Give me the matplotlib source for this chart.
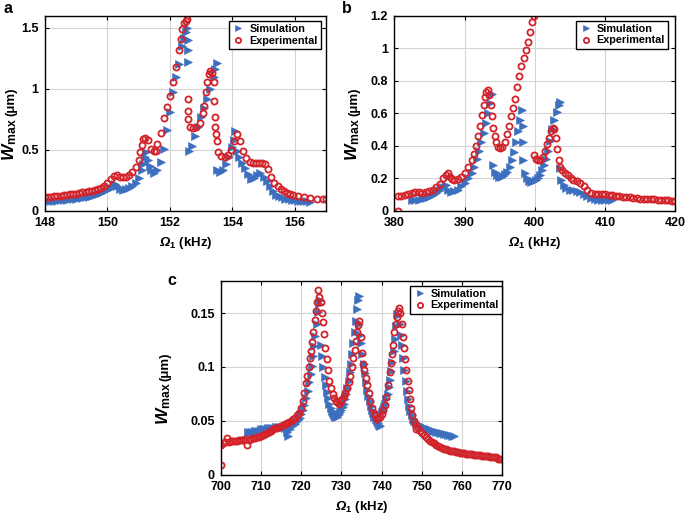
import matplotlib
matplotlib.use("Agg")
import matplotlib.pyplot as plt
from matplotlib.ticker import FuncFormatter, MultipleLocator

plt.rcParams['font.family'] = ['Liberation Sans', 'DejaVu Sans']
plt.rcParams['font.weight'] = 'bold'
plt.rcParams['mathtext.fontset'] = 'custom'
plt.rcParams['mathtext.rm'] = 'Liberation Sans:bold'
plt.rcParams['mathtext.bf'] = 'Liberation Sans:bold'
plt.rcParams['mathtext.it'] = 'Liberation Sans:italic'
plt.rcParams['mathtext.sf'] = 'Liberation Sans:italic'
plt.rcParams['mathtext.tt'] = 'Liberation Sans:bold:italic'

# ---------------- Panel a (kHz, um) ----------------
a_sim_x = [148.0, 148.1, 148.2, 148.3, 148.4, 148.5, 148.6, 148.7, 148.8, 148.9,
           149.0, 149.1, 149.2, 149.3, 149.4, 149.5, 149.6, 149.7, 149.8, 149.9,
           150.0, 150.1, 150.2, 150.25, 150.3, 150.4, 150.5, 150.6, 150.7, 150.8,
           150.9, 151.0, 151.1, 151.15, 151.2, 151.25, 151.3, 151.35, 151.4, 151.5,
           151.6, 151.7, 151.8, 151.9, 152.0, 152.1, 152.2, 152.3, 152.4, 152.45,
           152.5, 152.55, 152.58, 152.58, 152.58,
           152.6, 152.7, 152.8, 152.9, 153.0, 153.1, 153.2, 153.3, 153.4, 153.45, 153.5,
           153.5, 153.6, 153.7, 153.8, 153.9, 154.0, 154.05, 154.1, 154.15, 154.2,
           154.3, 154.4, 154.5, 154.6, 154.7, 154.8, 154.9, 155.0, 155.1, 155.2,
           155.3, 155.4, 155.5, 155.6, 155.7, 155.8, 155.9, 156.0, 156.1, 156.2,
           156.3, 156.4, 156.5]
a_sim_y = [0.075, 0.076, 0.078, 0.08, 0.082, 0.085, 0.087, 0.09, 0.093, 0.096,
           0.10, 0.103, 0.107, 0.11, 0.115, 0.12, 0.125, 0.135, 0.145, 0.158,
           0.17, 0.19, 0.21, 0.22, 0.20, 0.18, 0.17, 0.175, 0.185, 0.20,
           0.23, 0.27, 0.33, 0.38, 0.44, 0.48, 0.42, 0.37, 0.33, 0.31,
           0.33, 0.40, 0.51, 0.66, 0.81, 0.97, 1.10, 1.20, 1.35, 1.42,
           1.47, 1.50, 1.40, 1.32, 1.22,
           0.49, 0.53, 0.61, 0.69, 0.77, 0.84, 0.92, 1.00, 1.10, 1.16, 1.21,
           0.33, 0.32, 0.33, 0.38, 0.44, 0.52, 0.58, 0.65, 0.49, 0.44,
           0.39, 0.35, 0.30, 0.26, 0.27, 0.29, 0.31, 0.28, 0.24, 0.20,
           0.16, 0.13, 0.12, 0.11, 0.10, 0.095, 0.09, 0.085, 0.082, 0.08,
           0.078, 0.076, 0.075]
a_exp_x = [148.0, 148.1, 148.2, 148.3, 148.4, 148.5, 148.6, 148.7, 148.8, 148.9,
           149.0, 149.1, 149.2, 149.3, 149.4, 149.5, 149.6, 149.7, 149.8, 149.9,
           150.0, 150.1, 150.2, 150.3, 150.4, 150.5, 150.6, 150.7, 150.8, 150.9,
           151.0, 151.05, 151.1, 151.15, 151.2, 151.3, 151.4, 151.5, 151.55, 151.6,
           151.7, 151.8, 151.9, 152.0, 152.1, 152.2, 152.3, 152.35, 152.4, 152.45,
           152.5, 152.55, 152.58, 152.58, 152.58,
           152.65, 152.75, 152.85, 152.95, 153.05, 153.1, 153.15, 153.2, 153.25, 153.3,
           153.35, 153.4, 153.42, 153.44, 153.46, 153.48, 153.5, 153.55, 153.65, 153.75,
           153.85, 153.95, 154.05, 154.15, 154.25, 154.35, 154.45, 154.55, 154.65, 154.75,
           154.85, 154.95, 155.05, 155.15, 155.25, 155.35, 155.45, 155.55, 155.65, 155.75,
           155.85, 155.95, 156.1, 156.3, 156.5, 156.7, 156.9, 157.0]
a_exp_y = [0.11, 0.112, 0.115, 0.118, 0.12, 0.123, 0.126, 0.13, 0.133, 0.137,
           0.14, 0.145, 0.15, 0.155, 0.16, 0.165, 0.17, 0.178, 0.19, 0.205,
           0.23, 0.26, 0.285, 0.29, 0.28, 0.275, 0.278, 0.29, 0.32, 0.36,
           0.42, 0.48, 0.54, 0.59, 0.60, 0.58, 0.51, 0.49, 0.49, 0.55,
           0.64, 0.76, 0.85, 0.94, 1.06, 1.18, 1.32, 1.41, 1.49, 1.54,
           1.56, 1.57, 0.92, 0.82, 0.75,
           0.69, 0.68, 0.69, 0.72, 0.80, 0.86, 0.97, 1.06, 1.12, 1.15,
           1.13, 1.06, 0.90, 0.77, 0.69, 0.63, 0.57, 0.48, 0.45, 0.44,
           0.46, 0.50, 0.57, 0.63, 0.57, 0.49, 0.43, 0.40, 0.39, 0.39,
           0.39, 0.39, 0.38, 0.34, 0.28, 0.23, 0.20, 0.18, 0.16, 0.145,
           0.135, 0.125, 0.118, 0.11, 0.105, 0.10, 0.10, 0.10]

# ---------------- Panel b ----------------
b_sim_x = [382.5, 383.0, 383.5, 384.0, 384.5, 385.0, 385.5, 386.0, 386.5, 387.0,
           387.4, 387.7, 388.0, 388.5, 389.0, 389.5, 390.0, 390.5, 391.0, 391.4,
           391.8, 392.1, 392.4, 392.7, 393.0, 393.3, 393.6, 393.9,
           394.0, 394.3, 394.6, 394.9, 395.2, 395.5, 395.8, 396.1, 396.4, 396.7,
           397.0, 397.3, 397.6, 397.9, 398.2, 398.3, 398.3, 398.35,
           398.6, 398.9, 399.2, 399.5, 399.8, 400.1, 400.4, 400.7, 401.0, 401.3,
           401.6, 401.9, 402.2, 402.5, 402.8, 403.1, 403.4, 403.6,
           403.6, 403.8, 404.1, 404.5, 405.0, 405.5, 406.0, 406.5, 407.0, 407.5,
           408.0, 408.5, 409.0, 409.5, 410.0, 410.5, 411.0]
b_sim_y = [0.065, 0.066, 0.068, 0.072, 0.077, 0.085, 0.095, 0.11, 0.125, 0.145,
           0.16, 0.13, 0.115, 0.12, 0.13, 0.15, 0.17, 0.20, 0.23, 0.27,
           0.32, 0.37, 0.42, 0.48, 0.54, 0.60, 0.66, 0.72,
           0.28, 0.24, 0.22, 0.21, 0.21, 0.215, 0.225, 0.24, 0.27, 0.31,
           0.36, 0.42, 0.49, 0.56, 0.62, 0.52, 0.42, 0.31,
           0.23, 0.20, 0.18, 0.175, 0.18, 0.19, 0.20, 0.22, 0.25, 0.28,
           0.32, 0.37, 0.43, 0.50, 0.56, 0.61, 0.65, 0.67,
           0.26, 0.19, 0.16, 0.14, 0.13, 0.125, 0.12, 0.115, 0.105, 0.09,
           0.08, 0.072, 0.068, 0.066, 0.065, 0.064, 0.063]
b_exp_x = [380.5, 380.5, 381.0, 381.5, 382.0, 382.5, 383.0, 383.5, 384.0, 384.5,
           385.0, 385.5, 386.0, 386.5, 387.0, 387.3, 387.6, 387.9, 388.2, 388.5,
           389.0, 389.5, 390.0, 390.5, 391.0, 391.3, 391.6, 391.9, 392.2, 392.5,
           392.7, 392.9, 393.1, 393.3, 393.5, 393.7, 393.9, 394.1, 394.3, 394.5,
           394.8, 395.1, 395.4, 395.7, 396.0, 396.3, 396.6, 396.9, 397.2, 397.5,
           397.8, 398.1, 398.4, 398.7, 399.0, 399.3, 399.6, 399.9,
           399.9, 400.2, 400.5, 400.8, 401.1, 401.4, 401.7, 402.0, 402.3, 402.6,
           402.8, 403.0, 403.2, 403.4, 403.6, 403.9, 404.3, 404.7, 405.1, 405.5,
           406.0, 406.5, 407.0, 407.5, 408.0, 408.5, 409.0, 409.5, 410.0, 410.5,
           411.0, 411.5, 412.0, 412.5, 413.0, 413.5, 414.0, 414.5, 415.0, 415.5,
           416.0, 416.5, 417.0, 417.5, 418.0, 418.5, 419.0, 419.5, 420.0]
b_exp_y = [0.0, 0.09, 0.09, 0.095, 0.10, 0.11, 0.115, 0.115, 0.11, 0.115,
           0.12, 0.13, 0.145, 0.165, 0.20, 0.22, 0.23, 0.21, 0.195, 0.19,
           0.195, 0.21, 0.23, 0.27, 0.31, 0.35, 0.40, 0.46, 0.52, 0.59,
           0.65, 0.70, 0.73, 0.74, 0.71, 0.65, 0.58, 0.51, 0.46, 0.42,
           0.39, 0.385, 0.39, 0.42, 0.47, 0.52, 0.58, 0.63, 0.69, 0.76,
           0.83, 0.89, 0.94, 0.99, 1.04, 1.10, 1.16, 1.20,
           0.34, 0.32, 0.31, 0.31, 0.33, 0.37, 0.41, 0.45, 0.49, 0.51,
           0.50, 0.45, 0.38, 0.31, 0.27, 0.25, 0.235, 0.22, 0.20, 0.19,
           0.18, 0.17, 0.155, 0.13, 0.11, 0.105, 0.10, 0.10, 0.10, 0.097,
           0.095, 0.09, 0.088, 0.086, 0.085, 0.082, 0.08, 0.078, 0.075, 0.074,
           0.072, 0.071, 0.07, 0.068, 0.066, 0.065, 0.063, 0.062, 0.06]

# ---------------- Panel c ----------------
c_sim_x = [706.8, 707.2, 707.6, 708.0, 708.4, 708.8, 709.2, 709.6, 710.0, 710.4,
           710.8, 711.2, 711.6, 712.0, 712.4, 712.8, 713.2, 713.6, 714.0, 714.4,
           714.8, 715.2, 715.6, 716.0, 716.4, 716.8, 717.2, 717.6, 718.0, 718.4,
           718.8, 719.2, 719.6, 720.0, 720.4, 720.8, 721.2, 721.6, 722.0, 722.3,
           722.6, 722.9, 723.2, 723.5, 723.8, 724.1, 724.4, 724.6, 724.9, 725.2,
           725.5, 725.8, 726.1, 726.4, 726.7, 727.0, 727.3, 727.6, 727.9, 728.2,
           728.5, 728.8, 729.1, 729.4, 729.7, 730.0, 730.3, 730.6, 730.9, 731.2,
           731.5, 731.8, 732.1, 732.4, 732.7, 733.0, 733.3, 733.6, 733.9, 734.1,
           734.3, 734.5, 734.7, 734.9, 735.2, 735.5, 735.8, 736.1, 736.4, 736.7,
           737.0, 737.3, 737.6, 737.9, 738.2, 738.5, 738.8, 739.1, 739.4, 739.7,
           740.0, 740.3, 740.6, 740.9, 741.2, 741.5, 741.8, 742.1, 742.4, 742.7,
           743.0, 743.3, 743.6, 743.9, 744.2, 744.5, 744.8, 745.1, 745.4, 745.7,
           746.0, 746.3, 746.6, 746.9, 747.2, 747.5, 747.8, 748.1, 748.5, 749.0,
           749.5, 750.0, 750.5, 751.0, 751.5, 752.0, 752.5, 753.0, 753.5, 754.0,
           754.5, 755.0, 755.5, 756.0, 756.5, 757.0, 757.5, 758.0]
c_sim_y = [0.040, 0.040, 0.040, 0.040, 0.041, 0.041, 0.041, 0.041, 0.042, 0.042,
           0.042, 0.042, 0.043, 0.043, 0.043, 0.043, 0.043, 0.044, 0.044, 0.044,
           0.044, 0.044, 0.044, 0.043, 0.040, 0.036, 0.042, 0.045, 0.046, 0.047,
           0.049, 0.051, 0.053, 0.056, 0.060, 0.065, 0.071, 0.078, 0.086, 0.093,
           0.101, 0.110, 0.119, 0.129, 0.140, 0.151, 0.158, 0.162, 0.120, 0.110,
           0.100, 0.091, 0.083, 0.077, 0.071, 0.066, 0.062, 0.059, 0.057, 0.055,
           0.054, 0.054, 0.055, 0.056, 0.058, 0.060, 0.063, 0.066, 0.070, 0.075,
           0.080, 0.087, 0.095, 0.103, 0.112, 0.122, 0.132, 0.143, 0.154, 0.162,
           0.166, 0.140, 0.130, 0.122, 0.112, 0.103, 0.094, 0.086, 0.079, 0.073,
           0.068, 0.064, 0.060, 0.057, 0.054, 0.052, 0.050, 0.048, 0.046, 0.045,
           0.058, 0.060, 0.063, 0.066, 0.070, 0.075, 0.081, 0.088, 0.096, 0.105,
           0.115, 0.126, 0.138, 0.149, 0.148, 0.140, 0.130, 0.120, 0.108, 0.097,
           0.087, 0.078, 0.070, 0.064, 0.059, 0.055, 0.052, 0.050, 0.048, 0.047,
           0.046, 0.045, 0.044, 0.043, 0.042, 0.042, 0.041, 0.041, 0.040, 0.040,
           0.039, 0.039, 0.038, 0.038, 0.037, 0.037, 0.036, 0.036]
c_exp_x = [700.0, 700.0, 700.5, 701.0, 701.5, 702.0, 702.5, 703.0, 703.5, 704.0,
           704.5, 705.0, 705.5, 706.0, 706.5, 707.0, 707.5, 708.0, 708.5, 709.0,
           709.5, 710.0, 710.5, 711.0, 711.5, 712.0, 712.5, 713.0, 713.5, 714.0,
           714.5, 715.0, 715.5, 716.0, 716.5, 717.0, 717.5, 718.0, 718.5, 719.0,
           719.5, 720.0, 720.4, 720.8, 721.2, 721.5, 721.8, 722.1, 722.4, 722.7,
           723.0, 723.3, 723.6, 723.9, 724.2, 724.5, 724.8, 725.1, 725.4, 725.7,
           726.0, 726.3, 726.6, 727.0, 727.4, 727.8, 728.2, 728.6, 729.0, 729.4,
           729.8, 730.2, 730.6, 731.0, 731.4, 731.8, 732.2, 732.6, 733.0, 733.3,
           733.6, 733.9, 734.2, 734.5, 734.8, 735.1, 735.4, 735.7, 736.0, 736.4,
           736.8, 737.2, 737.6, 738.0, 738.4, 738.8, 739.2, 739.6, 740.0, 740.4,
           740.8, 741.2, 741.6, 742.0, 742.3, 742.6, 742.9, 743.2, 743.5, 743.8,
           744.1, 744.4, 744.7, 745.0, 745.3, 745.6, 745.9, 746.2, 746.5, 746.8,
           747.1, 747.4, 747.7, 748.0, 748.3, 748.6, 749.0, 749.5, 750.0, 750.5,
           751.0, 751.5, 752.0, 752.5, 753.0, 753.5, 754.0, 754.5, 755.0, 755.5,
           756.0, 756.5, 757.0, 757.5, 758.0, 758.5, 759.0, 759.5, 760.0, 760.5,
           761.0, 761.5, 762.0, 762.5, 763.0, 763.5, 764.0, 764.5, 765.0, 765.5,
           766.0, 766.5, 767.0, 767.5, 768.0, 768.5, 769.0, 769.5, 770.0]
c_exp_y = [0.009, 0.028, 0.029, 0.030, 0.034, 0.030, 0.031, 0.031, 0.031, 0.031,
           0.032, 0.032, 0.032, 0.033, 0.028, 0.032, 0.033, 0.034, 0.034, 0.035,
           0.035, 0.036, 0.037, 0.038, 0.039, 0.040, 0.041, 0.042, 0.043, 0.043,
           0.044, 0.045, 0.046, 0.047, 0.048, 0.049, 0.050, 0.052, 0.053, 0.055,
           0.057, 0.062, 0.068, 0.076, 0.085, 0.092, 0.100, 0.108, 0.115, 0.123,
           0.132, 0.144, 0.152, 0.160, 0.171, 0.165, 0.160, 0.150, 0.142, 0.131,
           0.118, 0.107, 0.097, 0.087, 0.080, 0.075, 0.071, 0.068, 0.067, 0.066,
           0.068, 0.070, 0.073, 0.076, 0.080, 0.086, 0.092, 0.100, 0.108, 0.116,
           0.124, 0.132, 0.139, 0.143, 0.128, 0.113, 0.103, 0.097, 0.090, 0.083,
           0.076, 0.068, 0.062, 0.057, 0.055, 0.052, 0.053, 0.054, 0.056, 0.060,
           0.065, 0.072, 0.083, 0.095, 0.104, 0.112, 0.120, 0.132, 0.140, 0.146,
           0.152, 0.155, 0.150, 0.140, 0.128, 0.118, 0.107, 0.097, 0.087, 0.079,
           0.070, 0.062, 0.055, 0.050, 0.047, 0.042, 0.043, 0.041, 0.039, 0.037,
           0.035, 0.033, 0.031, 0.030, 0.029, 0.028, 0.027, 0.026, 0.025, 0.024,
           0.024, 0.023, 0.022, 0.022, 0.022, 0.021, 0.021, 0.020, 0.020, 0.020,
           0.019, 0.019, 0.019, 0.019, 0.018, 0.018, 0.018, 0.018, 0.017, 0.017,
           0.017, 0.017, 0.016, 0.016, 0.016, 0.016, 0.015, 0.015, 0.015]

BLUE = '#3d6fbf'
RED = '#d2232a'

fig = plt.figure(figsize=(6.85, 5.18), dpi=100)
W, H = 685.0, 518.0

def make_axes(left_px, top_px, w_px=281.0, h_px=195.0):
    return fig.add_axes([left_px / W, 1 - (top_px + h_px) / H, w_px / W, h_px / H])

ax_a = make_axes(45, 15.7)
ax_b = make_axes(394.3, 15.7)
ax_c = make_axes(221, 280.7, h_px=194.0)

fmt = FuncFormatter(lambda v, p: '%g' % round(v, 6))

def style(ax, xlim, ylim, xstep, ystep, ylab_x, legend_anchor):
    ax.set_xlim(*xlim)
    ax.set_ylim(*ylim)
    ax.xaxis.set_major_locator(MultipleLocator(xstep))
    ax.yaxis.set_major_locator(MultipleLocator(ystep))
    ax.xaxis.set_major_formatter(fmt)
    ax.yaxis.set_major_formatter(fmt)
    ax.grid(True, color='#d4d4d4', linewidth=0.8)
    ax.set_axisbelow(True)
    ax.tick_params(direction='in', top=True, right=True, length=3, width=0.8,
                   labelsize=9, pad=4.5)
    for s in ax.spines.values():
        s.set_linewidth(1.0)
        s.set_color('black')
    for lab in ax.get_xticklabels() + ax.get_yticklabels():
        lab.set_fontweight('bold')
    ax.set_xlabel(r'$\mathsf{Ω}_{\mathrm{1}}$ (kHz)', fontsize=9.5, fontweight='bold', labelpad=4)
    ax.text(ylab_x, 0.475, r'$\mathtt{W}_{\mathrm{max}}$', transform=ax.transAxes,
            rotation=90, rotation_mode='anchor', ha='right', va='baseline', fontsize=12.5)
    ax.text(ylab_x, 0.485, '(μm)', transform=ax.transAxes,
            rotation=90, rotation_mode='anchor', ha='left', va='baseline',
            fontsize=9.5, fontweight='bold')
    leg = ax.legend(loc='upper right', bbox_to_anchor=legend_anchor, borderaxespad=0,
                    fontsize=7.8, frameon=True, fancybox=False, framealpha=1,
                    edgecolor='black', handletextpad=0.4, handlelength=1.2,
                    labelspacing=0.12, borderpad=0.3, markerscale=0.85)
    leg.get_frame().set_linewidth(1.0)
    for t in leg.get_texts():
        t.set_fontweight('bold')

def draw(ax, sx, sy, ex, ey):
    ax.plot(sx, sy, linestyle='none', marker='>', markersize=5.2, color=BLUE,
            markeredgewidth=0.4, label='Simulation', clip_on=True)
    ax.plot(ex, ey, linestyle='none', marker='o', markersize=4.4, markerfacecolor='none',
            markeredgecolor=RED, markeredgewidth=1.3, label='Experimental', clip_on=True)

draw(ax_a, a_sim_x, a_sim_y, a_exp_x, a_exp_y)
draw(ax_b, b_sim_x, b_sim_y, b_exp_x, b_exp_y)
draw(ax_c, c_sim_x, c_sim_y, c_exp_x, c_exp_y)

style(ax_a, (148, 157), (0, 1.6), 2, 0.5, -0.108, (0.982, 0.973))
style(ax_b, (380, 420), (0, 1.2), 10, 0.2, -0.132, (0.975, 0.974))
style(ax_c, (700, 770), (0, 0.18), 10, 0.05, -0.188, (1.0, 0.973))

fig.text(3 / W, 1 - 13 / H, 'a', fontsize=11.5, fontweight='bold', va='baseline')
fig.text(342 / W, 1 - 13 / H, 'b', fontsize=11.5, fontweight='bold', va='baseline')
fig.text(167 / W, 1 - 285 / H, 'c', fontsize=11.5, fontweight='bold', va='baseline')

fig.savefig('out.png', dpi=100)
